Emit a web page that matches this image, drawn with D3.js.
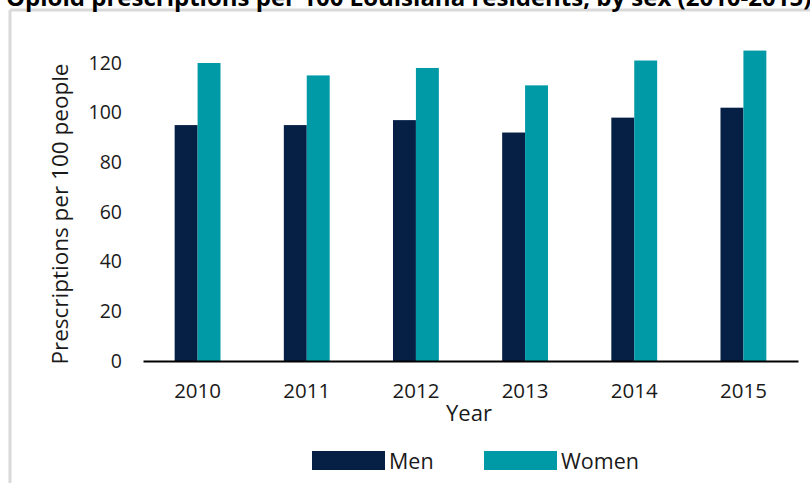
<!DOCTYPE html>
<html>
<head>
<meta charset="utf-8">
<script src="https://cdn.jsdelivr.net/npm/d3@7"></script>
<style>
  body { margin: 0; background: #fff; }
  text { font-family: "Open Sans", sans-serif; fill: #1a1a1a; }
</style>
</head>
<body>
<div id="chart"></div>
<script>
// data
var years = ["2010", "2011", "2012", "2013", "2014", "2015"];
var series = ["Men", "Women"];
var men = [95, 95, 97, 92, 98, 102];
var women = [120, 115, 118, 111, 121, 125];
var yTicks = [0, 20, 40, 60, 80, 100, 120];
var colors = ["#061f45", "#0099a6"];

var W = 810, H = 483;
var margin = { top: 63, right: 12, bottom: 122, left: 143 },
    width = 798 - margin.left,
    height = 361 - margin.top;

var svg = d3.select("#chart")
    .append("svg")
    .attr("width", W)
    .attr("height", H);

// frame of the original slide (gray border) and clipped title
svg.append("line")
    .attr("x1", 10).attr("x2", W).attr("y1", 10).attr("y2", 10)
    .attr("stroke", "#d9d9d9").attr("stroke-width", 3);
svg.append("line")
    .attr("x1", 10).attr("x2", 10).attr("y1", 10).attr("y2", H)
    .attr("stroke", "#d9d9d9").attr("stroke-width", 3);

svg.append("text")
    .attr("x", 6)
    .attr("y", 6)
    .style("font-size", "24px")
    .style("font-weight", "bold")
    .style("fill", "#000")
    .text("Opioid prescriptions per 100 Louisiana residents, by sex (2010-2015)");

var g = svg.append("g")
    .attr("transform", "translate(" + margin.left + "," + margin.top + ")");

var x = d3.scaleBand()
    .domain(years)
    .range([0, width])
    .paddingInner(0.58)
    .paddingOuter(0.29);

var xs = d3.scaleBand()
    .domain(series)
    .range([0, x.bandwidth()]);

// 120 sits at the top of the plot
var y = d3.scaleLinear()
    .domain([0, 120])
    .range([height, 0]);

var data = years.map(function(yr, i) {
    return { year: yr, values: [men[i], women[i]] };
});

var groups = g.selectAll(".year")
    .data(data)
    .enter()
    .append("g")
    .attr("class", "year")
    .attr("transform", function(d) { return "translate(" + x(d.year) + ",0)"; });

groups.selectAll("rect")
    .data(function(d) { return d.values.map(function(v, j) { return { s: series[j], v: v, j: j }; }); })
    .enter()
    .append("rect")
    .attr("x", function(d) { return xs(d.s); })
    .attr("y", function(d) { return y(d.v); })
    .attr("width", xs.bandwidth())
    .attr("height", function(d) { return height - y(d.v); })
    .attr("fill", function(d) { return colors[d.j]; });

// y axis (labels only, no line)
var yAxis = g.append("g")
    .call(d3.axisLeft(y).tickValues(yTicks).tickSize(0).tickPadding(21));
yAxis.select(".domain").remove();
yAxis.selectAll("text")
    .style("font-size", "19.5px")
    .style("font-family", "'Open Sans', sans-serif")
    .style("fill", "#1a1a1a");

// x axis
var xAxis = g.append("g")
    .attr("transform", "translate(0," + height + ")")
    .call(d3.axisBottom(x).tickSize(0).tickPadding(22));
xAxis.select(".domain")
    .attr("stroke", "#000")
    .attr("stroke-width", 2);
xAxis.selectAll("text")
    .style("font-size", "20.5px")
    .style("font-family", "'Open Sans', sans-serif")
    .style("fill", "#1a1a1a");

// axis titles
svg.append("text")
    .attr("x", 469)
    .attr("y", 421)
    .attr("text-anchor", "middle")
    .style("font-size", "22px")
    .text("Year");

svg.append("text")
    .attr("transform", "translate(68,214) rotate(-90)")
    .attr("text-anchor", "middle")
    .style("font-size", "22.5px")
    .text("Prescriptions per 100 people");

// legend
var legendX = [312, 484];
var legend = svg.selectAll(".legend")
    .data(series)
    .enter()
    .append("g")
    .attr("class", "legend")
    .attr("transform", function(d, i) { return "translate(" + legendX[i] + ",451)"; });

legend.append("rect")
    .attr("width", 73)
    .attr("height", 19)
    .attr("fill", function(d, i) { return colors[i]; });

legend.append("text")
    .attr("x", 77)
    .attr("y", 18)
    .style("font-size", "21.5px")
    .text(function(d) { return d; });
</script>
</body>
</html>
